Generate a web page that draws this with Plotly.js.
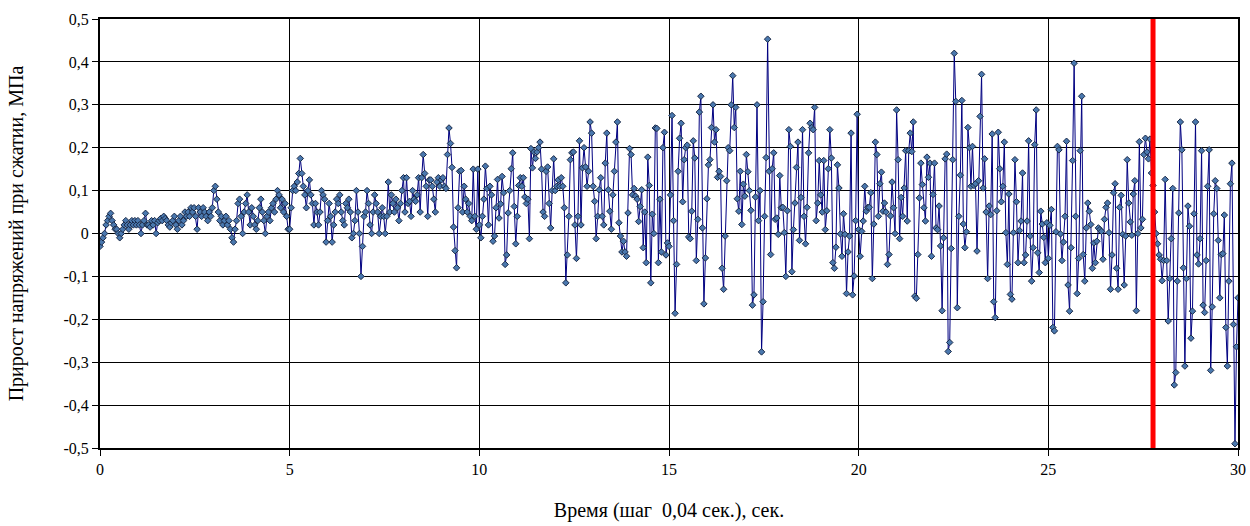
<!DOCTYPE html>
<html><head><meta charset="utf-8">
<script src="https://cdn.plot.ly/plotly-3.0.1.min.js"></script>
<style>html,body{margin:0;padding:0;background:#fff}#chart{width:1250px;height:526px}</style>
</head><body><div id="chart"></div>
<script>
// Time step of the record, seconds
const STEP = 0.04;

// Stress increment, MPa (25 samples per second)
const stress_00_05 = [
 -0.03,-0.02,-0.01,0.0,0.02,0.03,0.04,0.047,0.03,0.02,0.01,0.01,0.0,-0.01,0.0,0.01,0.02,0.03,0.02,0.01,0.02,0.03,0.02,0.03,0.02,
 0.03,0.02,0.0,0.02,0.03,0.047,0.02,0.02,0.015,0.03,0.02,0.03,0.0,0.025,0.03,0.035,0.03,0.04,0.035,0.03,0.02,0.015,0.025,0.03,0.04,
 0.02,0.01,0.03,0.04,0.02,0.03,0.05,0.04,0.05,0.04,0.06,0.05,0.06,0.04,0.01,0.06,0.05,0.04,0.06,0.05,0.04,0.03,0.05,0.04,0.06,
 0.1,0.11,0.08,0.05,0.03,0.04,0.02,0.03,0.04,0.02,0.03,0.01,-0.01,-0.02,0.01,0.03,0.07,0.08,0.04,0.0,0.05,0.07,0.09,0.05,0.02,
 0.06,0.04,0.02,0.01,0.03,0.06,0.08,0.05,0.03,0.0,0.04,0.05,0.03,0.06,0.07,0.05,0.08,0.1,0.09,0.06,0.08,0.05,0.07,0.04,0.01
];
const stress_05_10 = [
 0.01,0.06,0.1,0.11,0.1,0.12,0.14,0.175,0.14,0.11,0.09,0.06,0.1,0.125,0.09,0.07,0.02,0.07,0.05,0.02,0.05,0.1,0.09,0.08,-0.02,
 0.03,0.07,0.04,-0.02,0.02,0.05,0.08,0.07,0.09,0.05,0.03,0.02,0.07,0.06,0.08,0.05,-0.01,0.0,0.03,0.1,0.05,0.0,-0.1,-0.03,0.04,
 0.05,0.1,0.07,0.02,0.0,0.05,0.09,0.07,0.05,0.0,0.04,0.06,0.04,0.0,0.04,0.12,0.05,0.09,0.07,0.05,0.08,0.06,0.03,0.07,0.1,
 0.13,0.05,0.13,0.07,0.075,0.04,0.1,0.08,0.075,0.09,0.13,0.05,0.13,0.184,0.14,0.11,0.04,0.125,0.125,0.11,0.08,0.05,0.12,0.13,0.11,
 0.125,0.13,0.11,0.105,0.184,0.246,0.21,0.154,0.015,-0.04,-0.08,0.06,0.145,0.147,0.05,0.11,0.08,0.05,0.07,0.04,0.03,0.15,0.04,0.01,0.15
];
const stress_10_15 = [
 0.02,-0.01,0.04,0.08,0.157,0.105,0.02,0.11,0.09,-0.018,-0.006,0.06,0.126,0.036,0.069,0.133,0.095,-0.072,-0.05,0.048,0.1,0.151,0.188,0.063,-0.024,
 0.04,0.112,0.13,0.11,0.13,0.085,0.07,0.08,-0.012,0.198,0.153,0.19,0.175,0.19,0.2,0.213,0.15,0.05,0.04,0.145,0.155,0.07,0.013,0.1,0.174,
 0.1,0.11,0.125,0.11,0.13,0.11,0.06,-0.115,-0.05,0.04,0.172,0.188,0.19,0.02,-0.058,0.04,0.216,0.02,0.153,0.2,0.155,0.11,0.145,0.26,0.234,
 0.11,0.075,-0.012,0.04,0.102,0.13,0.04,0.02,0.164,0.234,0.102,0.052,0.01,0.09,0.145,0.213,0.26,0.025,-0.006,-0.043,-0.018,-0.043,-0.053,0.048,0.198,
 0.184,0.09,0.105,0.087,0.08,0.028,0.063,0.102,-0.033,0.05,-0.068,0.178,0.112,-0.115,0.045,0.0,0.246,0.245,-0.068,0.08,-0.043,0.2,0.236,-0.05,-0.022
];
const stress_15_20 = [
 -0.03,0.09,0.275,0.03,-0.186,-0.072,0.145,0.222,0.257,0.074,0.172,0.2,0.206,-0.008,-0.012,0.052,0.216,0.176,-0.063,0.033,0.283,0.32,0.013,-0.164,-0.057,
 0.081,0.16,0.172,0.247,0.3,0.213,0.242,0.131,0.145,0.133,-0.081,-0.13,-0.006,0.123,0.2,0.193,0.3,0.368,0.247,0.294,0.081,0.052,0.145,0.021,0.115,
 0.087,0.184,0.144,0.1,0.054,-0.167,-0.143,0.085,0.3,0.03,0.1,-0.276,-0.159,0.04,0.177,0.453,0.145,-0.049,0.151,0.188,0.033,0.036,-0.002,0.135,0.06,
 0.061,0.002,-0.1,0.053,0.242,0.203,-0.089,0.009,0.071,0.154,0.213,-0.016,0.084,0.242,0.04,-0.024,0.061,0.188,0.257,0.247,0.242,0.294,0.03,0.071,0.17,
 0.09,0.05,0.17,0.009,0.053,0.151,0.242,0.176,-0.068,-0.081,-0.032,0.16,0.106,-0.001,-0.053,0.046,-0.002,-0.14,-0.043,-0.006,0.234,-0.143,-0.099,0.03,0.278
];
const stress_20_25 = [
 0.009,-0.053,0.005,0.029,0.11,0.052,0.061,0.061,0.095,-0.105,0.022,0.213,0.184,0.04,0.116,0.143,0.052,0.071,0.05,-0.072,-0.049,0.041,0.12,0.06,0.0,
 0.288,0.172,-0.012,0.084,0.04,0.106,0.193,0.029,0.193,0.234,0.191,0.26,-0.146,-0.151,-0.049,0.083,0.164,0.114,0.06,0.029,0.178,0.131,0.164,-0.053,0.091,
 0.164,0.013,0.009,0.064,-0.029,-0.18,-0.01,0.174,0.185,-0.275,-0.254,-0.035,0.172,0.42,0.308,-0.173,0.04,0.136,0.31,0.022,-0.033,0.004,0.247,0.2,0.11,
 0.203,0.112,0.116,-0.041,0.123,0.273,0.371,0.106,0.174,0.05,-0.105,0.064,0.044,0.232,-0.159,-0.196,0.053,0.236,0.151,0.074,0.11,0.213,0.002,-0.072,0.092,
 -0.142,-0.153,0.002,0.172,0.074,-0.068,0.007,0.029,0.141,-0.068,-0.05,0.029,0.216,-0.006,-0.111,-0.033,0.207,0.288,-0.045,-0.091,0.052,0.022,-0.009,-0.068,0.025
];
const stress_25_30 = [
 -0.058,0.019,0.056,-0.219,-0.227,0.004,0.203,0.195,-0.001,-0.063,-0.02,0.04,0.215,-0.12,-0.181,-0.033,0.17,0.397,0.04,-0.14,-0.058,0.193,0.32,-0.049,-0.111,
 0.013,0.071,0.052,0.021,-0.081,-0.022,-0.068,-0.018,0.013,0.009,0.005,-0.06,0.033,0.061,0.071,0.002,-0.13,-0.05,0.095,0.116,-0.081,-0.13,0.061,0.089,-0.002,
 -0.12,-0.006,0.172,0.071,0.027,-0.004,0.092,0.123,-0.18,0.0,0.214,0.013,0.033,0.184,0.222,0.19,0.174,0.22,0.141,0.112,0.05,0.0,-0.024,-0.05,-0.06,
 -0.11,-0.063,0.126,-0.063,-0.204,-0.105,-0.012,0.105,-0.353,-0.324,-0.111,0.048,0.26,0.195,-0.08,-0.309,-0.105,0.064,0.017,-0.244,-0.181,0.046,0.26,-0.05,-0.071,
 -0.012,0.193,-0.167,-0.184,-0.063,0.11,0.195,-0.319,-0.171,0.046,0.123,0.105,-0.016,-0.15,-0.049,-0.047,0.043,-0.219,-0.309,-0.111,0.116,0.164,-0.212,-0.49,-0.264,
 -0.15
];

// Moment marked by the red vertical line, seconds
const MARK_TIME = 27.76;

// Axis ticks
const xTickVals = [0, 5, 10, 15, 20, 25, 30];
const xTickText = ["0", "5", "10", "15", "20", "25", "30"];
const yTickVals = [-0.5, -0.4, -0.3, -0.2, -0.1, 0, 0.1, 0.2, 0.3, 0.4, 0.5];
const yTickText = ["-0,5", "-0,4", "-0,3", "-0,2", "-0,1", "0", "0,1", "0,2", "0,3", "0,4", "0,5"];

const xTitle = "Время (шаг  0,04 сек.), сек.";
const yTitle = "Прирост напряжений при сжатии, МПа";

const values = [].concat(stress_00_05, stress_05_10, stress_10_15, stress_15_20, stress_20_25, stress_25_30);
const times = values.map((_, i) => Math.round(i * STEP * 100) / 100);

const FONT = "Liberation Serif, Times New Roman, serif";

const trace = {
  x: times, y: values, type: "scatter", mode: "lines+markers",
  line: {color: "#000080", width: 1},
  marker: {symbol: "diamond", size: 5, color: "#4A78AE", line: {color: "#1A2A48", width: 1}},
  hoverinfo: "x+y"
};

const axisCommon = {
  showgrid: true, gridcolor: "#000000", gridwidth: 1,
  showline: true, linecolor: "#000000", linewidth: 2, mirror: true,
  ticks: "outside", ticklen: 6, tickcolor: "#000000", tickwidth: 1,
  zeroline: false, automargin: false,
  tickfont: {family: FONT, size: 16, color: "#000000"}
};

const layout = {
  width: 1250, height: 526,
  margin: {l: 100, r: 12, t: 19, b: 78},
  paper_bgcolor: "#ffffff", plot_bgcolor: "#ffffff",
  showlegend: false,
  font: {family: FONT, color: "#000000"},
  xaxis: Object.assign({}, axisCommon, {
    range: [0, 30], tickmode: "array", tickvals: xTickVals, ticktext: xTickText,
    title: {text: xTitle, font: {family: FONT, size: 20, color: "#000000"}, standoff: 26}
  }),
  yaxis: Object.assign({}, axisCommon, {
    range: [-0.5, 0.5], tickmode: "array", tickvals: yTickVals, ticktext: yTickText,
    title: {text: yTitle, font: {family: FONT, size: 20, color: "#000000"}, standoff: 34}
  }),
  shapes: [{
    type: "line", xref: "x", yref: "paper", x0: MARK_TIME, x1: MARK_TIME, y0: 0, y1: 1,
    line: {color: "#FF0000", width: 5}, layer: "above"
  }]
};

Plotly.newPlot("chart", [trace], layout, {displayModeBar: false, staticPlot: true});
</script>
</body></html>
